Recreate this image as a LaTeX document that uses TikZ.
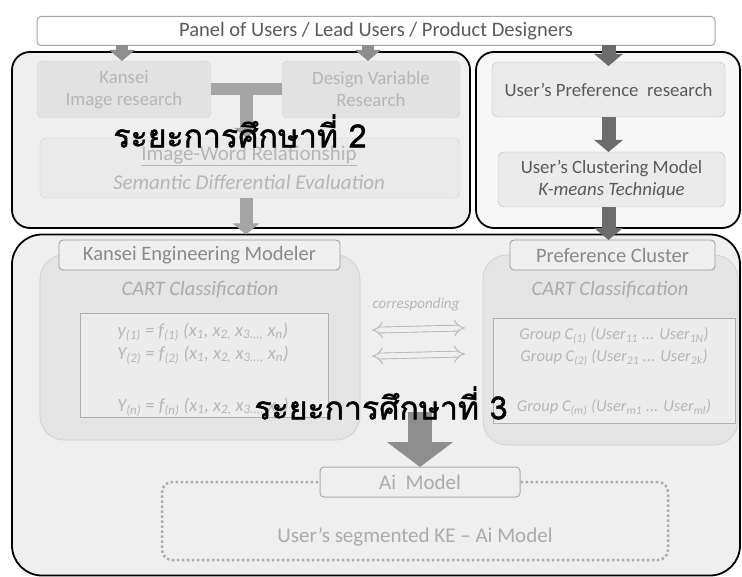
\documentclass[tikz,border=0pt]{standalone}
\usepackage{fontspec}
\setmainfont{Carlito}
\newfontfamily\thaifont[Script=Thai,FakeBold=1.4]{Loma}
\usetikzlibrary{arrows.meta,calc}
\definecolor{frameback}{HTML}{EFEFEF}
\definecolor{rightback}{HTML}{F7F7F7}
\definecolor{paleitem}{HTML}{E2E2E2}
\definecolor{paleline}{HTML}{D2D2D2}
\definecolor{paletext}{HTML}{B6B6B6}
\definecolor{darktext}{HTML}{5A5A5A}
\definecolor{midtext}{HTML}{8A8A8A}
\definecolor{softtext}{HTML}{ABABAB}
\definecolor{arrowgray}{HTML}{8E8E8E}
\definecolor{arrowdark}{HTML}{6C6C6C}
\definecolor{modelfill}{HTML}{E4E4E4}
\definecolor{modelline}{HTML}{D0D0D0}
\definecolor{tabfill}{HTML}{EFEFEF}
\definecolor{tabline}{HTML}{9A9A9A}
\begin{document}
\begin{tikzpicture}[x=1pt,y=-1pt,
  every node/.style={inner sep=0pt, outer sep=0pt},
  frame/.style={draw=black, line width=1.8pt, rounded corners=#1},
  lbox/.style={draw=paleline, fill=paleitem, rounded corners=6pt, text=paletext,
    align=center, font=\fontsize{18.8}{22}\selectfont},
  rbox/.style={draw=paleline!90!black, fill=paleitem!70!white, rounded corners=6pt, text=darktext,
    align=center, font=\fontsize{18.8}{22}\selectfont},
  model/.style={draw=modelline, fill=modelfill, rounded corners=24pt, line width=0.8pt},
  tabbox/.style={draw=tabline, fill=tabfill, rounded corners=4pt, text=midtext,
    font=\fontsize{20.5}{24}\selectfont, line width=0.8pt},
  inner/.style={draw=tabline!80, fill=frameback!70!modelfill, line width=0.7pt},
  soft/.style={text=softtext, font=\itshape\fontsize{20.5}{24}\selectfont},
  eqline/.style={text=paletext, font=\itshape\fontsize{18.5}{21}\selectfont},
  grpline/.style={text=paletext, font=\itshape\fontsize{16.5}{19}\selectfont},
  smallarrow/.style={draw=arrowgray, line width=12pt, -{Triangle[width=25pt,length=11pt]}},
  darkarrow/.style={draw=arrowdark, line width=14pt, -{Triangle[width=28pt,length=12pt]}},
  hollowarrow/.style={draw=paletext, double=frameback, double distance=5pt, line width=0.9pt,
    {Implies[length=7pt]}-{Implies[length=7pt]}},
  stagelabel/.style={text=black, font=\thaifont\fontsize{32}{36}\selectfont}
]
\useasboundingbox (0,0) rectangle (742,577);

% stage frames
\node[frame=18pt, fill=frameback, minimum width=458pt, minimum height=176pt] (leftframe) at (241,140) {};
\node[frame=18pt, fill=rightback, minimum width=264pt, minimum height=176pt] (rightframe) at (608,140) {};
\node[frame=30pt, fill=frameback, minimum width=728pt, minimum height=341pt] (bottomframe) at (376,405) {};

% top panel
\node[draw=gray!70, fill=white, rounded corners=4pt, line width=1pt, minimum width=678pt, minimum height=29pt,
  text=darktext, font=\fontsize{20.5}{24}\selectfont] (panel) at (376,31) {Panel of Users / Lead Users / Product Designers};

% stage 2: Kansei side
\node[lbox, minimum width=174pt, minimum height=57pt] (kansei) at (124,89.5) {Kansei\\Image research};
\node[lbox, minimum width=178pt, minimum height=57pt] (design) at (371,89.5) {Design Variable\\Research};
\node[lbox, fill=frameback!60!paleitem, minimum width=420pt, minimum height=60pt] (iw) at (250,168) {};
\node[text=paletext, font=\fontsize{21}{24}\selectfont] (iwtitle) at (249,156) {\underline{Image-Word Relationship}};
\node[text=paletext, font=\itshape\fontsize{21}{24}\selectfont] (iwsub) at (249,182) {Semantic Differential Evaluation};

% stage 2: preference side
\node[rbox, minimum width=233pt, minimum height=55pt] (pref) at (608.5,89.5) {User’s Preference~ research};
\node[rbox, minimum width=227pt, minimum height=55pt] (clus) at (611.5,179.5) {User’s Clustering Model\\\textit{K-means Technique}};

% stage 3: Kansei engineering modeler
\node[model, minimum width=320pt, minimum height=185pt] (kem) at (200,347.5) {};
\node[tabbox, minimum width=281pt, minimum height=30pt] (kemtab) at (199.5,255) {Kansei Engineering Modeler};
\node[soft] (cartleft) at (200,290) {CART Classification};
\node[inner, minimum width=248pt, minimum height=104pt] (eqbox) at (204,365) {};
\node[eqline] (eq1) at (203,332) {y\textsubscript{(1)} = f\textsubscript{(1)} (x\textsubscript{1}, x\textsubscript{2,} x\textsubscript{3...,} x\textsubscript{n})};
\node[eqline] (eq2) at (203,355) {Y\textsubscript{(2)} = f\textsubscript{(2)} (x\textsubscript{1}, x\textsubscript{2,} x\textsubscript{3...,} x\textsubscript{n})};
\node[eqline] (eq3) at (203,407) {Y\textsubscript{(n)} = f\textsubscript{(n)} (x\textsubscript{1}, x\textsubscript{2,} x\textsubscript{3...,} x\textsubscript{n})};

% stage 3: preference cluster
\node[model, minimum width=255pt, minimum height=190pt] (pc) at (610.5,350) {};
\node[tabbox, minimum width=205pt, minimum height=30pt] (pctab) at (612.5,255) {Preference Cluster};
\node[soft] (cartright) at (610,290) {CART Classification};
\node[inner, minimum width=242pt, minimum height=105pt] (grpbox) at (614,370.5) {};
\node[grpline] (g1) at (614,336) {Group C\textsubscript{(1)} (User\textsubscript{11} ... User\textsubscript{1N})};
\node[grpline] (g2) at (614,358) {Group C\textsubscript{(2)} (User\textsubscript{21} ... User\textsubscript{2k})};
\node[grpline] (g3) at (614,408) {Group C\textsubscript{(m)} (User\textsubscript{m1} ... User\textsubscript{ml})};

% correspondence between the two models
\node[text=paletext, font=\itshape\fontsize{15}{18}\selectfont] (corr) at (416,305) {corresponding};
\draw[hollowarrow, shorten <=12pt, shorten >=18pt] ([yshift=17pt]kem.east) -- ([yshift=20pt]pc.west |- kem.east);
\draw[hollowarrow, shorten <=12pt, shorten >=18pt] ([yshift=-9pt]kem.east) -- ([yshift=-6pt]pc.west |- kem.east);

% Ai model
\node[draw=softtext, line width=2.5pt, dash pattern=on 2.5pt off 2.5pt, rounded corners=10pt,
  minimum width=506pt, minimum height=78pt] (seg) at (415,521) {};
\node[draw=softtext, fill=frameback, rounded corners=4pt, line width=1pt, minimum width=200pt, minimum height=30pt,
  text=softtext, font=\fontsize{21}{24}\selectfont] (ai) at (420,482) {Ai~ Model};
\node[text=softtext, font=\fontsize{21}{24}\selectfont] (segtxt) at (415,537) {User’s segmented KE – Ai Model};

% flows
\draw[smallarrow] ([xshift=-2pt]panel.south -| kansei) -- ([xshift=-2pt]kansei.north);
\draw[smallarrow] ([xshift=-3pt]panel.south -| design) -- ([xshift=-3pt]design.north);
\draw[darkarrow] (panel.south -| pref) -- ([yshift=-4pt]pref.north);
\draw[darkarrow] (pref.south) -- (clus.north -| pref);
\draw[darkarrow] (clus.south -| pref) -- (pctab.north -| pref);
\draw[draw=arrowgray!80, line width=12pt] (kansei.east) -- (design.west);
\coordinate (tjoin) at ($(kansei.east)!0.5!(design.west)$);
\draw[draw=arrowgray!80, line width=13pt, -{Triangle[width=24pt,length=10pt]}] (tjoin) -- (tjoin |- iw.north);
\draw[draw=arrowgray!80, line width=13pt, -{Triangle[width=26pt,length=11pt]}] ([xshift=-4pt]iw.south) -- ([xshift=-4pt]iw.south |- bottomframe.north);
\coordinate (merge) at (420,412);
\draw[draw=arrowgray, line width=24pt, -{Triangle[width=65pt,length=25pt]}] (merge) -- (ai.north);

% stage labels
\node[stagelabel] (stagetwo) at (240,131) {ระยะการศึกษาที่ 2};
\node[stagelabel] (stagethree) at (381,403) {ระยะการศึกษาที่ 3};
\end{tikzpicture}
\end{document}
